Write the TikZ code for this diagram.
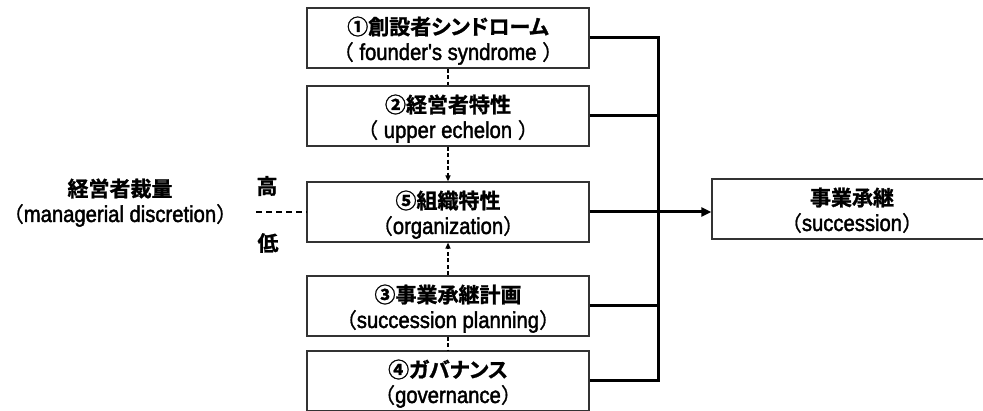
\documentclass[tikz,border=0pt]{standalone}
\usepackage{fontspec}
\usetikzlibrary{arrows.meta}
\newfontfamily\jpb{Noto Sans CJK JP Bold}[FakeBold=1.2]
\newfontfamily\jpk{Noto Sans CJK JP Bold}[RawFeature=+palt, FakeBold=1.2]
\newfontfamily\jpf{Noto Sans CJK JP}[FakeBold=0.8]
\newfontfamily\lat{Liberation Sans}[FakeStretch=0.88, FakeBold=1.8]
\newcommand{\jl}[1]{\rule{0pt}{20pt}\smash{\fontsize{21pt}{25.5pt}\selectfont\jpb #1}}
\newcommand{\kn}[1]{{\jpk #1}}
\newcommand{\el}[1]{\smash{\fontsize{21pt}{25.5pt}\selectfont\jpf （{\fontsize{23pt}{25.5pt}\selectfont\lat #1}）}\rule[-1.5pt]{0pt}{1pt}}
\tikzset{
  box/.style={draw=black!80, line width=1.2pt, minimum width=282pt, minimum height=60pt,
    inner sep=0pt, align=center, text=black, font=\fontsize{21pt}{25.5pt}\selectfont},
  plain/.style={inner sep=0pt, align=center, font=\fontsize{21pt}{25.5pt}\selectfont},
  bus/.style={line width=3pt, black},
  dsh/.style={line width=1.2pt, dash pattern=on 4pt off 2.5pt},
  dshl/.style={line width=1.6pt, dash pattern=on 6pt off 4pt},
  dtip/.style={-{Triangle[length=6pt,width=5pt]}},
  bigtip/.style={-{Triangle[length=10pt,width=9pt]}}
}
\begin{document}
\begin{tikzpicture}[x=1pt,y=-1pt]
\useasboundingbox[fill=white] (0,0) rectangle (983,411);
\node[box] (b1) at (448,38) {\jl{①創設者\kn{シンドローム}}\\\el{ founder's syndrome }};
\node[box] (b2) at (448,116) {\jl{②経営者特性}\\\el{ upper echelon }};
\node[box] (b5) at (448,212) {\jl{⑤組織特性}\\\el{organization}};
\node[box] (b3) at (448,306) {\jl{③事業承継計画}\\\el{succession planning}};
\node[box] (b4) at (448,381) {\jl{④\kn{ガバナンス}}\\\el{governance}};
\node[box, minimum width=280pt] (sc) at (852,209) {\jl{事業承継}\\\el{succession}};
\node[plain] (md) at (120,200) {\jl{経営者裁量}\\\el{managerial discretion}};
\node[plain] (hi) at (267,186) {{\jpb 高}};
\node[plain] (lo) at (268,243) {{\jpb 低}};
\coordinate (dl) at (256,212);
\coordinate (j1) at (658,38);
\coordinate (j4) at (658,381);
% thick bus
\draw[bus] (b1.east) -- (j1) -- (j4) -- (b4.east);
\draw[bus] (b2.east) -- (b2.east -| j1);
\draw[bus] (b3.east) -- (b3.east -| j1);
\draw[bus, bigtip] (b5.east) -- (b5.east -| sc.west);
% dashed links
\draw[dsh] (b1.south) -- (b2.north);
\draw[dsh, dtip] (b2.south) -- (b5.north);
\draw[dsh, dtip] (b3.north) -- (b5.south);
\draw[dsh] (b3.south) -- (b4.north);
\draw[dshl] (dl) -- (b5.west);
\end{tikzpicture}
\end{document}
